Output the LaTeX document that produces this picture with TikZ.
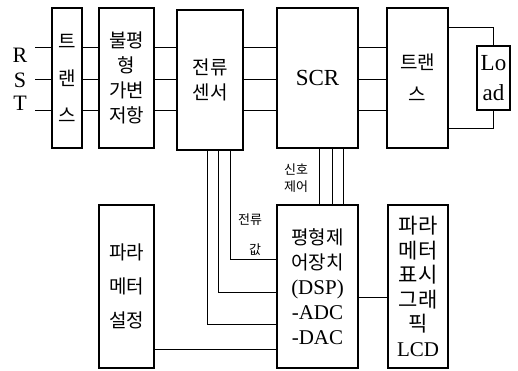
\documentclass[tikz,border=0pt]{standalone}
\usepackage{fontspec}
\setmainfont{Liberation Serif}
\newfontfamily\kr{Noto Sans CJK KR}
\begin{document}
\begin{tikzpicture}[x=1pt,y=-1pt,
  box/.style={draw,line width=1.2pt,inner sep=0pt,align=center},
  wire/.style={line width=0.9pt},
  krbig/.style={font=\kr\fontsize{19}{25}\selectfont},
  lat/.style={font=\fontsize{21}{25}\selectfont},
  small/.style={font=\kr\fontsize{13}{17}\selectfont,inner sep=0pt,align=center}]
\useasboundingbox (0,0) rectangle (518,370);
% rows
\coordinate (yR) at (0,47);
\coordinate (yS) at (0,79);
\coordinate (yT) at (0,110);
\coordinate (xA) at (207,0);
\coordinate (xB) at (218,0);
\coordinate (xC) at (230,0);
\coordinate (xD) at (319,0);
\coordinate (xE) at (332,0);
\coordinate (xF) at (343,0);
% boxes
\node[box,minimum width=30pt,minimum height=140pt,font=\kr\fontsize{19}{37}\selectfont] (t1) at (67,78) {트\\랜\\스};
\node[box,krbig,minimum width=55pt,minimum height=140pt] (ub) at (126.5,78) {불평\\형\\가변\\저항};
\node[box,krbig,minimum width=66pt,minimum height=140pt] (cs) at (210,80) {전류\\센서};
\node[box,minimum width=81pt,minimum height=140pt,font=\fontsize{23}{25}\selectfont] (scr) at (317.5,78) {SCR};
\node[box,minimum width=61pt,minimum height=140pt,font=\kr\fontsize{19}{32}\selectfont] (t2) at (417.5,78) {트랜\\스};
\node[box,minimum width=33pt,minimum height=64pt,font=\fontsize{23}{30}\selectfont] (load) at (493.5,78) {Lo\\ad};
\node[box,minimum width=55pt,minimum height=163pt,font=\kr\fontsize{19}{34}\selectfont] (ps) at (126.5,286.5) {파라\\메터\\설정};
\node[box,minimum width=81pt,minimum height=163pt,lat] (dsp) at (317.5,286.5) {{\kr\fontsize{19}{25}\selectfont 평형제}\\{\kr\fontsize{19}{25}\selectfont 어장치}\\(DSP)\\-ADC\\-DAC};
\node[box,minimum width=60pt,minimum height=163pt,font=\fontsize{21}{24.5}\selectfont] (lcd) at (418,286.5) {{\kr 파라}\\{\kr 메터}\\{\kr 표시}\\{\kr 그래}\\{\kr 픽}\\LCD};
% RST
\node[font=\fontsize{22}{25}\selectfont] (lR) at (20,55) {R};
\node[font=\fontsize{22}{25}\selectfont] (lS) at (20,80) {S};
\node[font=\fontsize{22}{25}\selectfont] (lT) at (20,103) {T};
\coordinate (sR) at (35,47);
\coordinate (sS) at (35,79);
\coordinate (sT) at (35,110);
\foreach \r/\s in {yR/sR,yS/sS,yT/sT}{
  \draw[wire] (\s) -- (t1.west |- \r);
  \draw[wire] (t1.east |- \r) -- (ub.west |- \r);
  \draw[wire] (ub.east |- \r) -- (cs.west |- \r);
  \draw[wire] (cs.east |- \r) -- (scr.west |- \r);
  \draw[wire] (scr.east |- \r) -- (t2.west |- \r);
}
% load
\coordinate (yL1) at (0,27);
\coordinate (yL2) at (0,128);
\draw[wire] (t2.east |- yL1) -| (load.north);
\draw[wire] (t2.east |- yL2) -| (load.south);
% current sensor to DSP
\coordinate (y1) at (0,259);
\coordinate (y2) at (0,292);
\coordinate (y3) at (0,324);
\coordinate (y4) at (0,349);
\coordinate (y5) at (0,297);
\draw[wire] (cs.south -| xC) |- (dsp.west |- y1);
\draw[wire] (cs.south -| xB) |- (dsp.west |- y2);
\draw[wire] (cs.south -| xA) |- (dsp.west |- y3);
\draw[wire] (ps.east |- y4) -- (dsp.west |- y4);
\foreach \x in {xD,xE,xF}{\draw[wire] (scr.south -| \x) -- (dsp.north -| \x);}
\draw[wire] (dsp.east |- y5) -- (lcd.west |- y5);
% small labels
\node[small] (sig) at (296,178) {신호\\제어};
\node[small] (cur) at (250,220) {전류};
\node[small] (val) at (255,250) {값};
\end{tikzpicture}
\end{document}
